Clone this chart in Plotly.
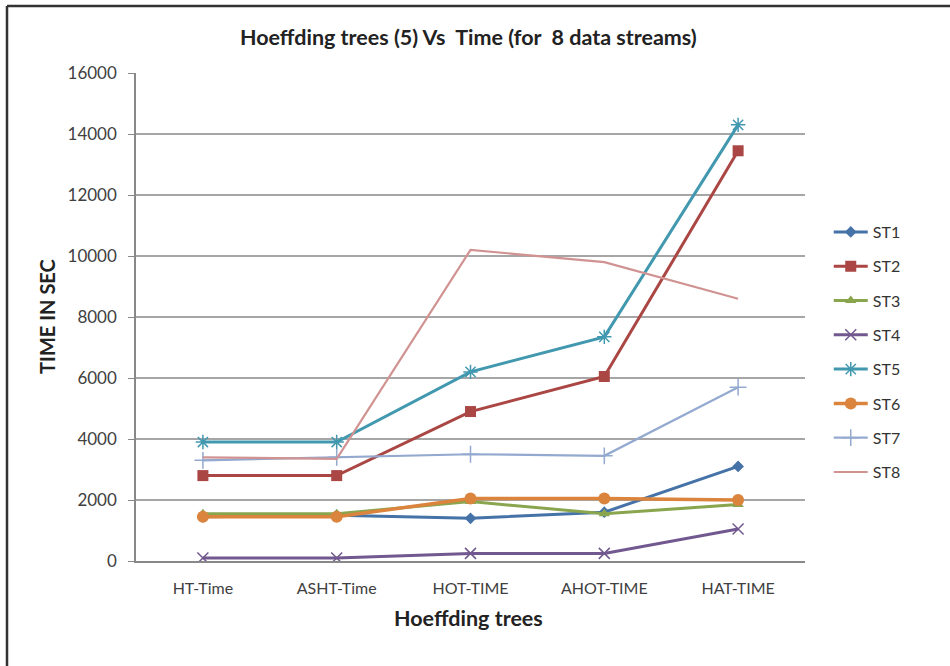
import plotly.graph_objects as go

categories = ["HT-Time", "ASHT-Time", "HOT-TIME", "AHOT-TIME", "HAT-TIME"]
series_names = ["ST1", "ST2", "ST3", "ST4", "ST5", "ST6", "ST7", "ST8"]
st1 = [1450, 1500, 1400, 1600, 3100]
st2 = [2800, 2800, 4900, 6050, 13450]
st3 = [1550, 1550, 1950, 1550, 1850]
st4 = [100, 100, 250, 250, 1050]
st5 = [3900, 3900, 6200, 7350, 14300]
st6 = [1450, 1450, 2050, 2050, 2000]
st7 = [3300, 3400, 3500, 3450, 5700]
st8 = [3400, 3350, 10200, 9800, 8600]
y_ticks = [0, 2000, 4000, 6000, 8000, 10000, 12000, 14000, 16000]

values = [st1, st2, st3, st4, st5, st6, st7, st8]
colors = ["#4572A7", "#AA4643", "#89A54E", "#71588F", "#4198AF", "#DB843D", "#93A9CF", "#D19392"]
symbols = ["diamond", "square", "triangle-up", "x-thin-open", "asterisk-open", "circle", "cross-thin-open", None]
sizes = [9, 11, 10, 11, 12, 12, 12, 0]
widths = [3, 3, 3, 3, 3, 3.5, 2.2, 2.2]

FONT = "Lato, Open Sans, sans-serif"

fig = go.Figure()
for i, (name, vals) in enumerate(zip(series_names, values)):
    sym = symbols[i]
    if sym is None:
        mode = "lines"
        marker = dict()
    else:
        mode = "lines+markers"
        marker = dict(symbol=sym, size=sizes[i], color=colors[i],
                      line=dict(color=colors[i], width=1.5 if "thin" in sym or "asterisk" in sym else 0))
    fig.add_trace(go.Scatter(
        x=categories, y=vals, name=name, mode=mode,
        line=dict(color=colors[i], width=widths[i]),
        marker=marker, legendgroup=name,
    ))

fig.update_layout(
    width=950, height=666,
    margin=dict(l=136, r=145, t=73, b=105),
    paper_bgcolor="white", plot_bgcolor="white",
    font=dict(family=FONT, size=16, color="#404040"),
    title=dict(text="<b>Hoeffding trees (5) Vs  Time (for  8 data streams)</b>",
               x=0.493, xanchor="center", y=1 - 37 / 666, yanchor="middle",
               font=dict(family=FONT, size=21.5, color="#222222")),
    showlegend=True,
    legend=dict(x=1.0355, y=0.709, xanchor="left", yanchor="top",
                traceorder="grouped", tracegroupgap=10.5,
                font=dict(family=FONT, size=16, color="#333333"),
                itemwidth=34, bgcolor="rgba(0,0,0,0)"),
)
fig.update_xaxes(
    type="category", showline=True, linecolor="#888888", linewidth=1.5,
    showgrid=False, ticks="", tickfont=dict(size=16, color="#404040"),
    range=[-0.5, 4.5], ticklabelstandoff=12,
)
fig.update_yaxes(
    range=[0, 16000], tickvals=y_ticks, tickformat="d", showline=True,
    linecolor="#888888", linewidth=1.5,
    showgrid=True, gridcolor="#A6A6A6", gridwidth=1.5, ticks="outside", ticklen=6,
    tickcolor="#888888", tickfont=dict(size=17, color="#404040"), zeroline=False,
    ticklabelstandoff=8,
)

fig.add_annotation(text="<b>Hoeffding trees</b>", xref="paper", yref="paper",
                   x=0.497, y=(561 - 618) / 488, xanchor="center", yanchor="middle",
                   showarrow=False, font=dict(family=FONT, size=21.5, color="#222222"))
fig.add_annotation(text="<b>TIME IN SEC</b>", xref="paper", yref="paper",
                   x=(47 - 136) / 669, y=(561 - 317) / 488, xanchor="center", yanchor="middle",
                   textangle=-90, showarrow=False,
                   font=dict(family=FONT, size=20, color="#222222"))

# outer frame (top and left edges)
fig.add_shape(type="line", xref="paper", yref="paper",
              x0=(7 - 136) / 669, y0=(561 - 6) / 488, x1=(950 - 136) / 669, y1=(561 - 6) / 488,
              line=dict(color="#333333", width=2.5))
fig.add_shape(type="line", xref="paper", yref="paper",
              x0=(7 - 136) / 669, y0=(561 - 6) / 488, x1=(7 - 136) / 669, y1=(561 - 666) / 488,
              line=dict(color="#333333", width=2.5))

fig.write_html("out.html", config={"displayModeBar": False},
               post_script="document.body.style.margin='0px';")
